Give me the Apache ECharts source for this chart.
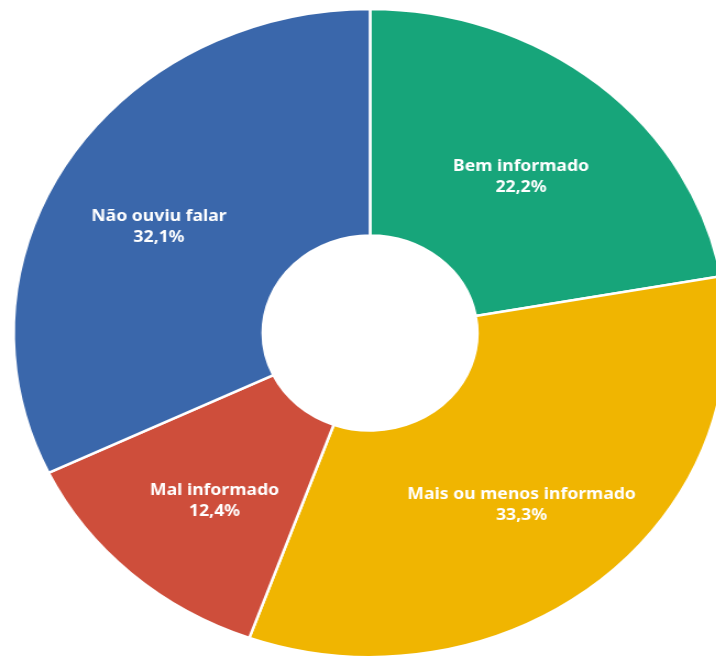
<!DOCTYPE html>
<html>
<head>
<meta charset="utf-8">
<script src="https://cdn.jsdelivr.net/npm/echarts@6/dist/echarts.min.js"></script>
<style>
html,body{margin:0;padding:0;background:#fff;overflow:hidden;}
#wrap{width:716px;height:660px;overflow:hidden;position:relative;}
#chart{width:651px;height:660px;transform:scaleX(1.1);transform-origin:0 0;}
</style>
</head>
<body>
<div id="wrap"><div id="chart"></div></div>
<script>
const categories = ['Bem informado', 'Mais ou menos informado', 'Mal informado', 'Não ouviu falar'];
const values = [22.2, 33.3, 12.4, 32.1];
const colors = ['#17a57a', '#f0b501', '#ce4e3b', '#3a67ab'];

const chart = echarts.init(document.getElementById('chart'), null, {renderer: 'canvas'});
const labelPads = [[0, 0, 0, 0], [0, 0, 0, 0], [0, 0, 0, 4], [0, 22, 0, 0]];
const spacers = [16, 18, 18, 16];
chart.setOption({
  animation: false,
  backgroundColor: '#ffffff',
  series: [{
    type: 'pie',
    center: [336.4, 333],
    radius: [97.5, 324],
    startAngle: 90,
    clockwise: true,
    avoidLabelOverlap: false,
    itemStyle: {borderColor: '#ffffff', borderWidth: 2.5},
    label: {
      show: true,
      position: 'inside',
      color: '#ffffff',
      fontFamily: 'Noto Sans',
      fontWeight: 'bold',
      fontSize: 16,
      lineHeight: 21,
      formatter: function (p) {
        return '{sp| }\n' + p.name + '\n' + p.value.toFixed(1).replace('.', ',') + '%';
      }
    },
    labelLine: {show: false},
    emphasis: {disabled: true},
    data: categories.map((c, i) => ({
      name: c, value: values[i],
      itemStyle: {color: colors[i]},
      label: {padding: labelPads[i], rich: {sp: {fontSize: 4, lineHeight: spacers[i], height: spacers[i]}}}
    }))
  }]
});
</script>
</body>
</html>
